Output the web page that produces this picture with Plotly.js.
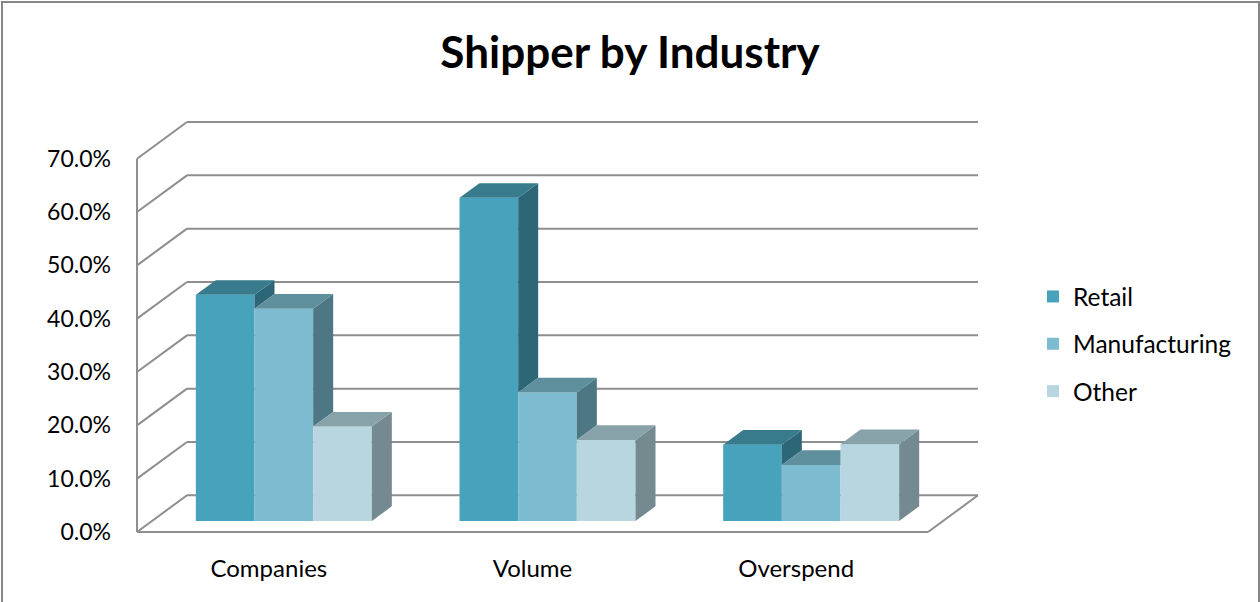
<!DOCTYPE html>
<html><head><meta charset="utf-8">
<script src="https://cdn.plot.ly/plotly-3.0.1.min.js"></script>
<style>html,body{margin:0;padding:0;background:#fff}</style>
</head><body><div id="chart" style="width:1260px;height:602px"></div>
<script>
// ---------- data ----------
const categories = ['Companies', 'Volume', 'Overspend'];
const seriesNames = ['Retail', 'Manufacturing', 'Other'];
const retail = [42.4, 60.6, 14.3];
const manufacturing = [39.8, 24.1, 10.5];
const other = [17.7, 15.2, 14.4];
const yTickValues = [0, 10, 20, 30, 40, 50, 60, 70];
const yTickLabels = ['0.0%', '10.0%', '20.0%', '30.0%', '40.0%', '50.0%', '60.0%', '70.0%'];

// ---------- styles ----------
const frontColors = ['#47A2BC', '#7CBBD0', '#B7D6E0'];
const topColors = ['#377B8D', '#5D8F9C', '#88A2AA'];
const sideColors = ['#2D6677', '#4D7883', '#748A90'];
const gridColor = '#8E8E8E';
const FONT = 'Lato, "Open Sans", sans-serif';

// ---------- pseudo-3D geometry (axis units) ----------
const DX = 0.1896;   // full depth, x (category units)
const DY = 6.88;     // full depth, y (percent units)
const F1 = 0.3, F2 = 0.7; // bar front / back depth fractions
const GROUP = 0.6675;
const BW = GROUP / 3;

// plot area in pixels
const W = 1260, H = 602;
const PL = 130, PR = 990, PT = 110, PB = 540;
const XR = [-0.5 - (137 - PL) / 263.67, -0.5 + (PR - 137) / 263.67];
const YR = [-(PB - 532) / 5.333, (532 - PT) / 5.333];
const px2paperX = p => (p - PL) / (PR - PL);
const py2paperY = p => (PB - p) / (PB - PT);

const series = [retail, manufacturing, other];
const xIdx = categories.map((c, i) => i);

const traces = [];
// front faces: real bar traces
series.forEach((vals, i) => {
  traces.push({
    type: 'bar', name: seriesNames[i], x: xIdx, y: vals,
    base: F1 * DY, width: BW,
    offset: -GROUP / 2 + i * BW + F1 * DX,
    marker: {color: frontColors[i], line: {width: 0}},
    legendgroup: seriesNames[i],
    hovertemplate: seriesNames[i] + ': %{y:.1f}%<extra></extra>'
  });
});

// top and side faces computed from values
const ddx = (F2 - F1) * DX, ddy = (F2 - F1) * DY;
const yb = F1 * DY;
categories.forEach((cat, c) => {
  series.forEach((vals, i) => {
    const v = vals[c];
    const vNext = i < series.length - 1 ? series[i + 1][c] : 0;
    const xl = c - GROUP / 2 + i * BW + F1 * DX;
    const xr = xl + BW;
    const yt = yb + v;
    if (vNext < v) {
      traces.push({
        type: 'scatter', mode: 'none', fill: 'toself', fillcolor: sideColors[i],
        x: [xr, xr, xr + ddx, xr + ddx, xr],
        y: [yb + vNext, yt, yt + ddy, yb + vNext + ddy, yb + vNext],
        showlegend: false, hoverinfo: 'skip', legendgroup: 'faces'
      });
    }
    let d = i < series.length - 1 ? (vNext - v) * ddx / ddy : 0;
    d = Math.max(0, Math.min(ddx, d));
    const st = [[0, 0], [BW, 0], [BW - d, d / ddx], [BW - d, 1], [0, 1], [0, 0]];
    traces.push({
      type: 'scatter', mode: 'none', fill: 'toself', fillcolor: topColors[i],
      x: st.map(p => xl + p[0] + p[1] * ddx),
      y: st.map(p => yt + p[1] * ddy),
      showlegend: false, hoverinfo: 'skip', legendgroup: 'faces'
    });
  });
});

// walls / grid as shapes
const shapes = [];
const line = {color: gridColor, width: 2};
const x0 = -0.5, x1 = categories.length - 0.5;
yTickValues.forEach(v => {
  shapes.push({type: 'line', layer: 'below', x0: x0, y0: v, x1: x0 + DX, y1: v + DY, line: line});
  shapes.push({type: 'line', layer: 'below', x0: x0 + DX, y0: v + DY, x1: x1 + DX, y1: v + DY, line: line});
});
shapes.push({type: 'line', layer: 'below', x0: x0, y0: 0, x1: x0, y1: yTickValues[yTickValues.length - 1], line: line});
shapes.push({type: 'line', layer: 'below', x0: x0, y0: 0, x1: x1, y1: 0, line: line});
shapes.push({type: 'line', layer: 'below', x0: x1, y0: 0, x1: x1 + DX, y1: DY, line: line});
shapes.push({type: 'rect', xref: 'paper', yref: 'paper',
  x0: px2paperX(2), x1: px2paperX(1259), y0: py2paperY(2), y1: py2paperY(610),
  line: {color: '#868686', width: 2}});

const layout = {
  width: W, height: H,
  margin: {l: PL, r: W - PR, t: PT, b: H - PB, pad: 0},
  paper_bgcolor: '#ffffff', plot_bgcolor: 'rgba(0,0,0,0)',
  font: {family: FONT, color: '#000000', size: 22},
  title: {text: '<b>Shipper by Industry</b>', x: 0.5, xref: 'container', xanchor: 'center',
    y: 1 - 53 / H, yref: 'container', yanchor: 'middle', font: {family: FONT, size: 44, color: '#000'}},
  barmode: 'overlay',
  xaxis: {range: XR, tickvals: xIdx, ticktext: categories, showgrid: false, zeroline: false,
    showline: false, ticks: '', ticklabelstandoff: 12, fixedrange: true,
    tickfont: {family: FONT, size: 24, color: '#000'}},
  yaxis: {range: YR, tickvals: yTickValues, ticktext: yTickLabels, showgrid: false, zeroline: false,
    showline: false, ticks: '', ticklabelstandoff: 18, fixedrange: true,
    tickfont: {family: FONT, size: 23, color: '#000'}},
  showlegend: true,
  legend: {x: px2paperX(1033), xanchor: 'left', y: py2paperY(274), yanchor: 'top',
    font: {family: FONT, size: 24.5}, tracegroupgap: 12.5, traceorder: 'grouped', bgcolor: 'rgba(0,0,0,0)'},
  shapes: shapes
};

Plotly.newPlot('chart', traces, layout, {displayModeBar: false, staticPlot: true});
</script>
</body></html>
